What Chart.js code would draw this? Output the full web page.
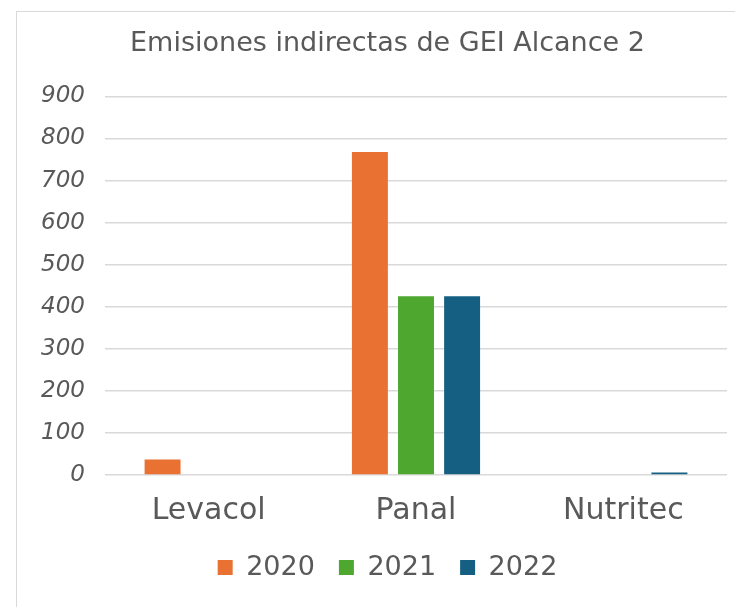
<!DOCTYPE html>
<html>
<head>
<meta charset="utf-8">
<script src="https://cdn.jsdelivr.net/npm/chart.js@4"></script>
<style>
  html, body { margin: 0; padding: 0; background: #fff; }
  #wrap { position: relative; width: 735px; height: 607px; overflow: hidden; }
  #frame {
    position: absolute; left: 16px; top: 11px; width: 760px; height: 640px;
    border: 1px solid #d9d9d9; box-sizing: border-box;
  }
  canvas { position: absolute; left: 0; top: 0; }
</style>
</head>
<body>
<div id="wrap">
  <div id="frame"></div>
  <canvas id="chart" width="735" height="607"></canvas>
</div>
<script>
  const categories = ["Levacol", "Panal", "Nutritec"];
  const years = ["2020", "2021", "2022"];
  const values2020 = [37, 768, 0];
  const values2021 = [0, 425, 0];
  const values2022 = [0, 425, 6];
  const yTicks = [0, 100, 200, 300, 400, 500, 600, 700, 800, 900];
  const colors = ["#E97132", "#4EA72E", "#156082"];

  const textColor = "#595959";
  const fontFamily = "'DejaVu Sans', sans-serif";
  const ctx = document.getElementById("chart").getContext("2d");

  new Chart(ctx, {
    type: "bar",
    data: {
      labels: categories,
      datasets: [values2020, values2021, values2022].map((vals, i) => ({
        label: years[i],
        data: vals,
        backgroundColor: colors[i],
        borderWidth: 0,
        categoryPercentage: 0.667,
        barPercentage: 0.78,
      })),
    },
    options: {
      responsive: false,
      animation: false,
      layout: {
        padding: { left: 0, right: 8, top: 28, bottom: 16 },
      },
      plugins: {
        title: {
          display: true,
          text: "Emisiones indirectas de GEI Alcance 2",
          color: textColor,
          font: { family: fontFamily, size: 27, weight: "normal" },
          padding: { top: 0, bottom: 36 },
        },
        legend: {
          position: "bottom",
          labels: {
            color: textColor,
            boxWidth: 15,
            boxHeight: 15,
            padding: 24,
            font: { family: fontFamily, size: 27 },
          },
        },
        tooltip: { enabled: false },
      },
      scales: {
        x: {
          grid: { display: false },
          border: { display: false },
          afterFit: (scale) => {
            scale.height = 55;
          },
          ticks: {
            color: textColor,
            padding: 10,
            font: { family: fontFamily, size: 30 },
          },
        },
        y: {
          min: 0,
          max: 900,
          afterBuildTicks: (scale) => {
            scale.ticks = yTicks.map((v) => ({ value: v }));
          },
          afterFit: (scale) => {
            scale.width = 105;
          },
          grid: { color: "#d9d9d9", lineWidth: 1.5, drawTicks: false },
          border: { display: false },
          ticks: {
            color: textColor,
            padding: 20,
            font: { family: fontFamily, size: 23, style: "italic" },
          },
        },
      },
    },
    plugins: [
      {
        // the original centres title and legend over the plot, not the whole canvas
        id: "shiftBlocks",
        afterLayout: function (chart) {
          [chart.titleBlock, chart.legend].forEach((b) => {
            if (b) {
              b.left += 24;
              b.right += 24;
            }
          });
        },
      },
    ],
  });
</script>
</body>
</html>
